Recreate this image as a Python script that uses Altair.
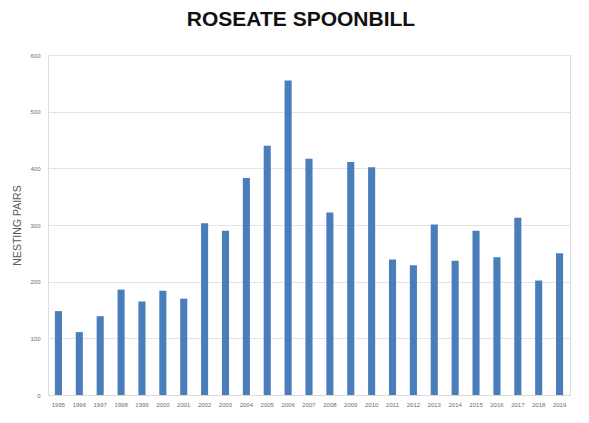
import altair as alt
import pandas as pd

# Roseate spoonbill nesting pairs per year
years = [str(y) for y in range(1995, 2020)]
pairs = [148, 111, 139, 186, 165, 184, 170, 303, 290, 383, 440, 555, 417,
         322, 411, 402, 239, 229, 301, 237, 290, 243, 313, 202, 250]
y_ticks = [0, 100, 200, 300, 400, 500, 600]

df = pd.DataFrame({"year": years, "pairs": pairs})

chart = (
    alt.Chart(df)
    .mark_bar(color="#4a7ebb")
    .encode(
        x=alt.X(
            "year:N",
            sort=years,
            scale=alt.Scale(paddingInner=0.66, paddingOuter=0.33),
            axis=alt.Axis(
                title=None,
                labelAngle=0,
                labelFontSize=6,
                labelColor="#6e6e6e",
                labelPadding=6,
                ticks=False,
                domain=True,
                domainColor="#d9d9d9",
                grid=False,
            ),
        ),
        y=alt.Y(
            "pairs:Q",
            scale=alt.Scale(domain=[0, 600], nice=False),
            axis=alt.Axis(
                values=y_ticks,
                title="NESTING PAIRS",
                titleFontSize=10.5,
                titleFontWeight="normal",
                titleColor="#595959",
                titleX=-26,
                labelFontSize=6,
                labelColor="#6e6e6e",
                labelPadding=8,
                ticks=False,
                domain=False,
                grid=True,
                gridColor="#e3e3e3",
            ),
        ),
    )
    .properties(
        width=522,
        height=340,
        padding={"left": 48, "top": 55, "right": 19, "bottom": 28},
        autosize=alt.AutoSizeParams(type="none"),
        title=alt.TitleParams(
            "ROSEATE SPOONBILL",
            fontSize=21,
            fontWeight="bold",
            font="Liberation Sans",
            color="#111111",
            anchor="middle",
            dx=-8,
            offset=22,
        ),
    )
    .configure_view(stroke=None)
    .configure(font="Liberation Sans", background="white")
)

chart.save("out.html", embed_options={"renderer": "svg", "actions": False})
